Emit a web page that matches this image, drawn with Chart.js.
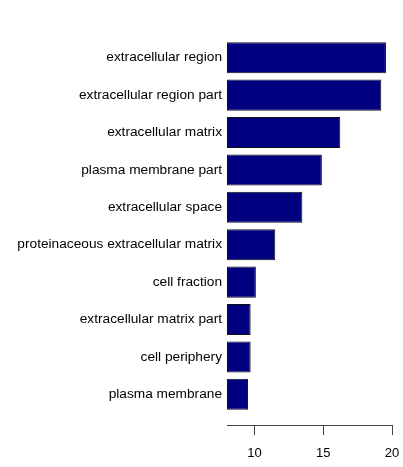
<!DOCTYPE html>
<html>
<head>
<meta charset="utf-8">
<script src="https://cdn.jsdelivr.net/npm/chart.js@4/dist/chart.umd.min.js"></script>
<style>
  body { margin: 0; background: #fff; }
  canvas { display: block; }
</style>
</head>
<body>
<canvas id="bar-chart" width="403" height="467"></canvas>
<script>
// GO terms, top to bottom
const categories = [
  "extracellular region",
  "extracellular region part",
  "extracellular matrix",
  "plasma membrane part",
  "extracellular space",
  "proteinaceous extracellular matrix",
  "cell fraction",
  "extracellular matrix part",
  "cell periphery",
  "plasma membrane"
];
const values = [19.56, 19.22, 16.24, 14.9, 13.48, 11.51, 10.1, 9.72, 9.72, 9.53];
const xTicks = [10, 15, 20];
const xMin = 8;
const xMax = 20;

const points = values.map((v, i) => ({ x: v, y: i }));

new Chart(document.getElementById("bar-chart"), {
  type: 'bar',
  data: {
    datasets: [
      {
        data: points,
        base: xMin,
        backgroundColor: "#000080",
        borderColor: "#111",
        borderWidth: 1,
        borderSkipped: false,
        barPercentage: 0.83,
        categoryPercentage: 1
      }
    ]
  },
  options: {
    indexAxis: 'y',
    responsive: false,
    animation: false,
    layout: { padding: { top: 39, right: 11, bottom: 0, left: 0 } },
    plugins: {
      legend: { display: false },
      tooltip: { enabled: false }
    },
    scales: {
      x: {
        type: 'linear',
        min: xMin,
        max: xMax,
        afterBuildTicks: s => { s.ticks = xTicks.map(v => ({ value: v })); },
        afterFit: s => { s.height = 42; s.paddingRight = 0; s.paddingLeft = 0; },
        grid: { drawOnChartArea: false, drawTicks: true, tickLength: 10, color: "#444" },
        border: { display: true, color: "#444", width: 1 },
        ticks: {
          padding: 11,
          color: "#000",
          font: { family: "'Liberation Sans', Arial, sans-serif", size: 13 }
        }
      },
      y: {
        type: 'linear',
        reverse: true,
        offset: false,
        min: -0.5,
        max: 9.82,
        afterBuildTicks: s => { s.ticks = categories.map((c, i) => ({ value: i })); },
        afterFit: s => { s.width = 227; },
        grid: { display: false, drawTicks: false, offset: false },
        border: { display: false },
        ticks: {
          autoSkip: false,
          padding: 5,
          color: "#000",
          font: { family: "'Liberation Sans', Arial, sans-serif", size: 13.7 },
          callback: v => categories[v]
        }
      }
    }
  }
});
</script>
</body>
</html>
